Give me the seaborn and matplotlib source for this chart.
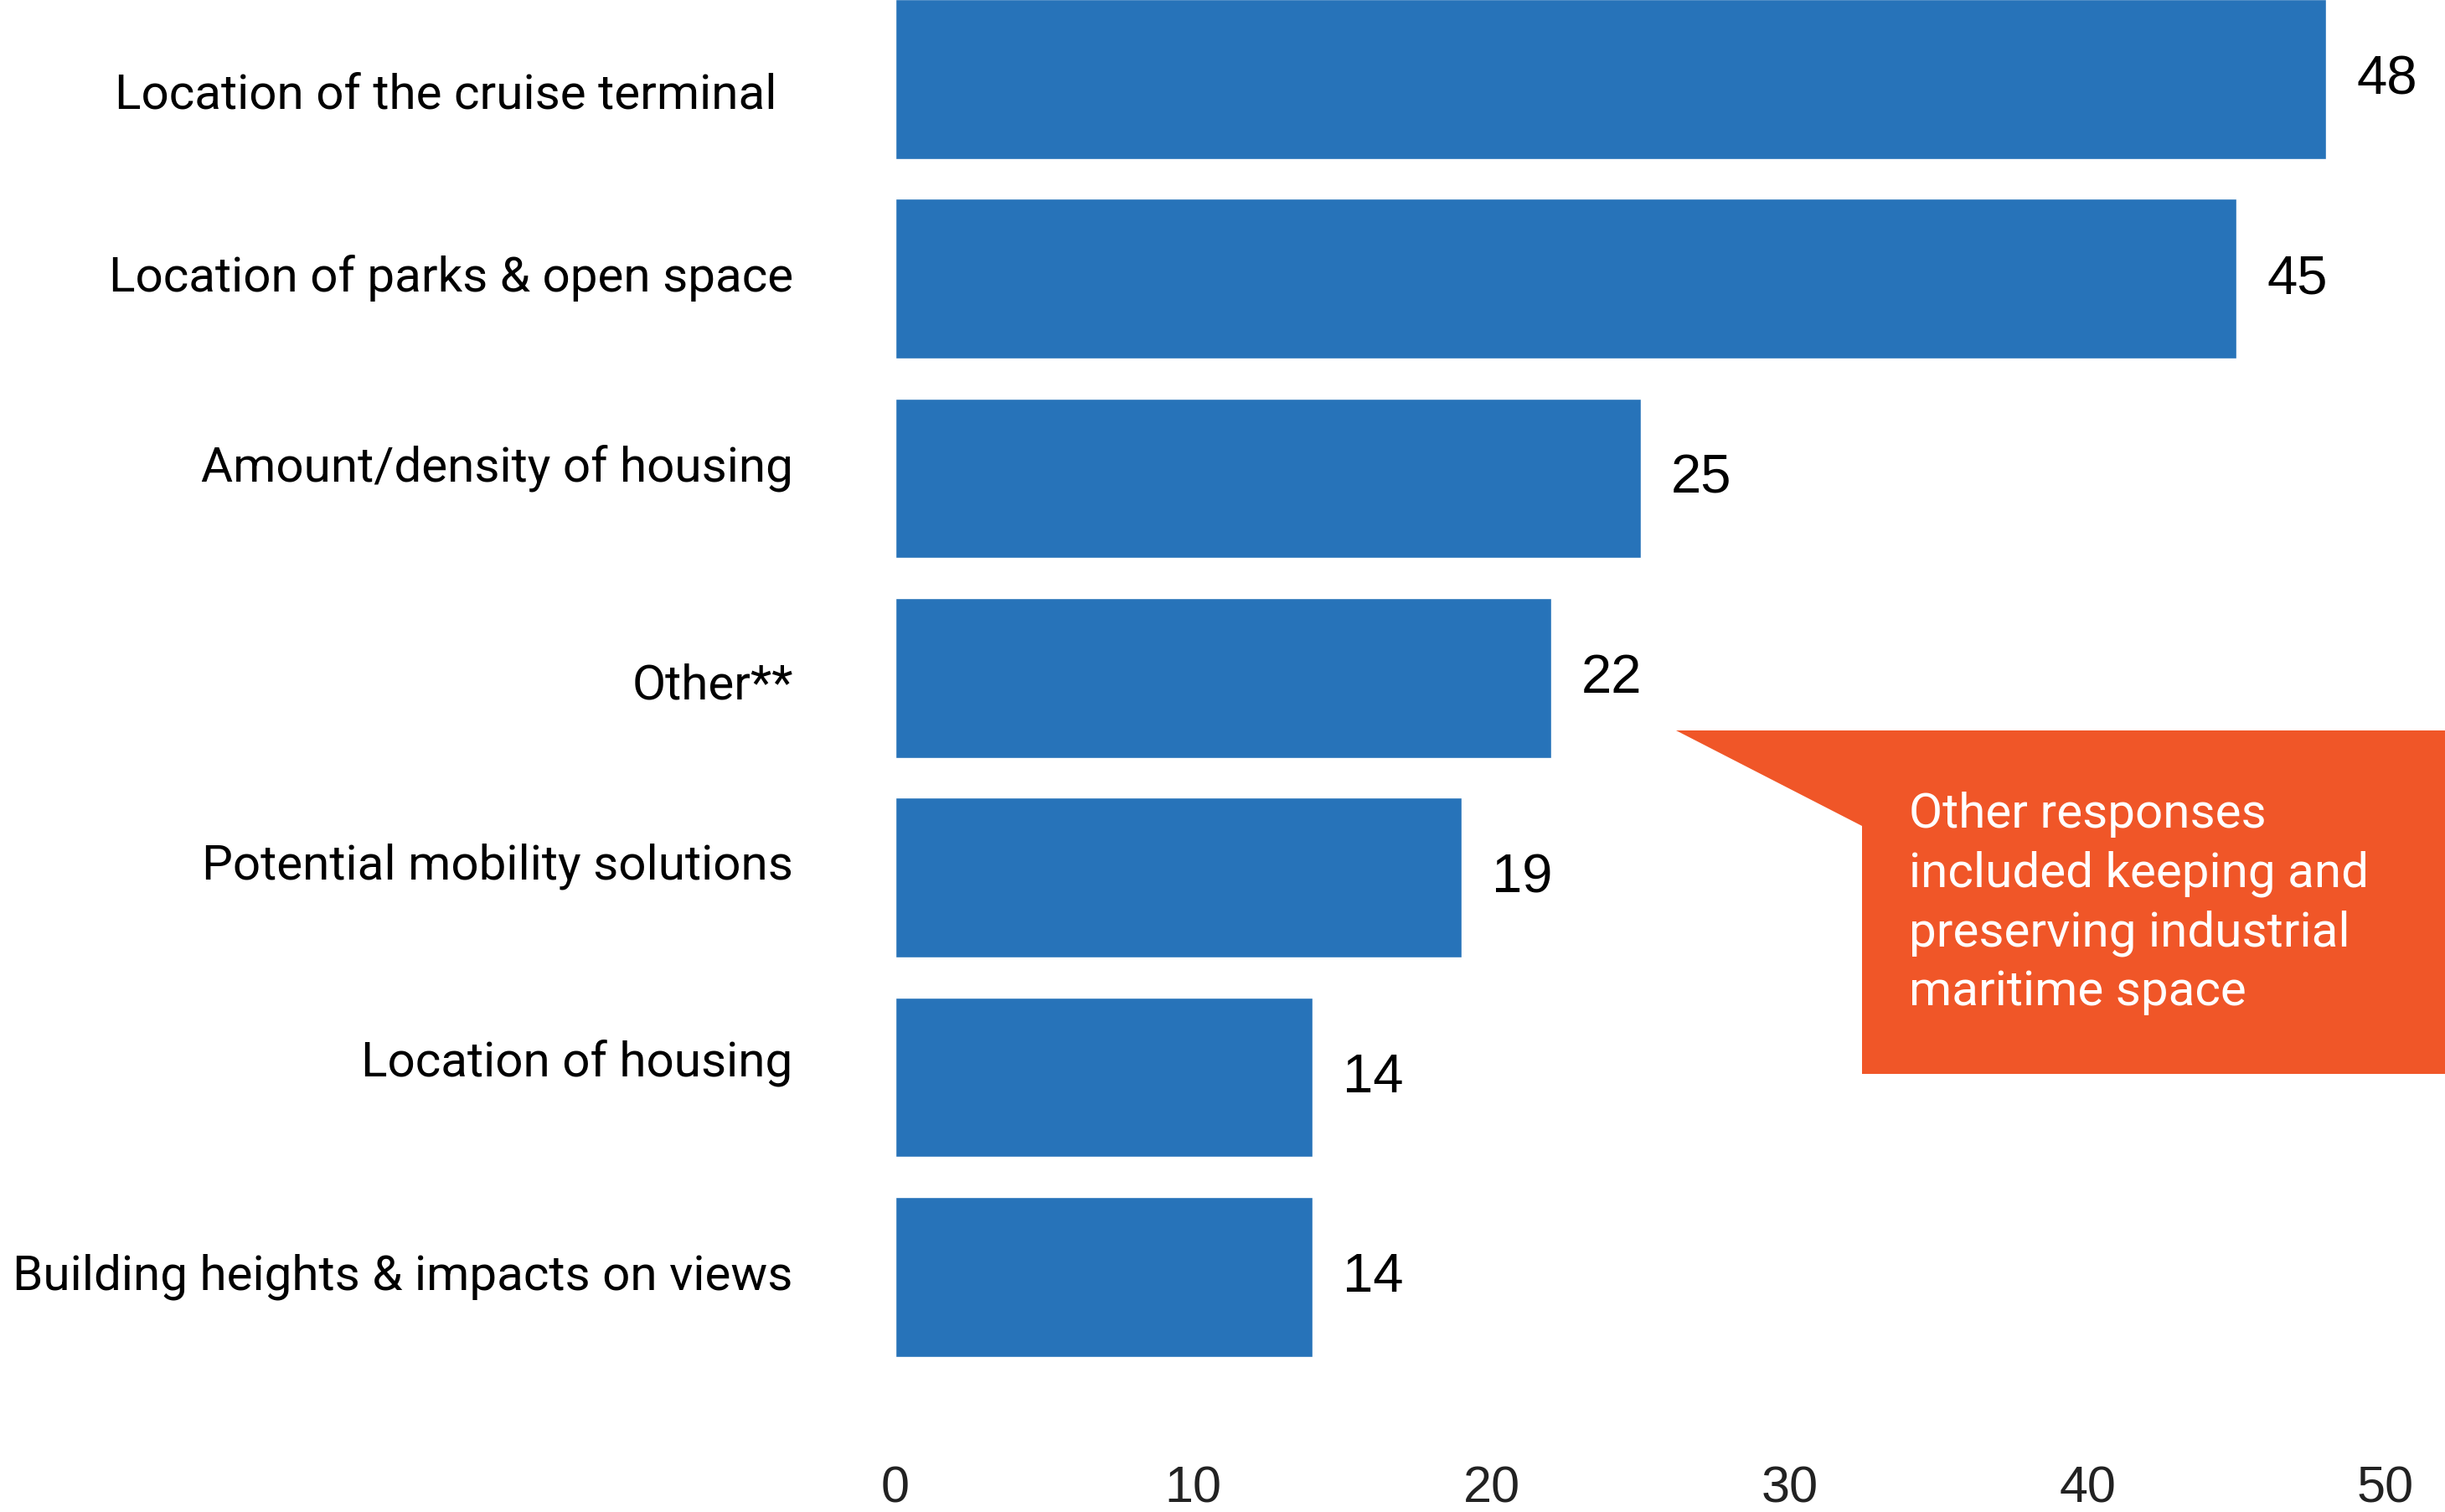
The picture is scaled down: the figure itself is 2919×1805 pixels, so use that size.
import matplotlib
matplotlib.use("Agg")
import matplotlib.pyplot as plt
from matplotlib.patches import Polygon
from matplotlib.transforms import offset_copy
import seaborn as sns
import pandas as pd

# Survey topics and number of responses
categories = [
    "Location of the cruise terminal",
    "Location of parks & open space",
    "Amount/density of housing",
    "Other**",
    "Potential mobility solutions",
    "Location of housing",
    "Building heights & impacts on views",
]
counts = [48, 45, 25, 22, 19, 14, 14]
x_ticks = [0, 10, 20, 30, 40, 50]
note_lines = [
    "Other responses",
    "included keeping and",
    "preserving industrial",
    "maritime space",
]

# hand-placed nudges (points) for the category labels: (dx, dy)
label_nudges = [(-13.7, -9.4), (0, 5.8), (0, 13.7), (0, -2.2),
                (0, 15.1), (0, 17.3), (0, 5.0)]

BAR_BLUE = "#2773B9"
NOTE_ORANGE = "#F05628"

sns.set_theme(style="white")
plt.rcParams["font.family"] = ["Roboto", "DejaVu Sans"]

df = pd.DataFrame({"topic": categories, "count": counts})

W, H = 2919, 1806
fig = plt.figure(figsize=(W / 100, H / 100), dpi=100)
ax = fig.add_axes([0.3662, 0.0565, 0.6095, 0.9435])

sns.barplot(data=df, y="topic", x="count", orient="h", color=BAR_BLUE,
            saturation=1, width=0.8, ax=ax)

ax.set_xlim(0, 50)
ax.set_ylim(6.75, -0.4)
ax.set_xlabel("")
ax.set_ylabel("")
for s in ax.spines.values():
    s.set_visible(False)

ax.set_xticks(x_ticks)
ax.set_xticklabels([str(t) for t in x_ticks], fontsize=44,
                   family="Liberation Sans", color="#222222")
ax.tick_params(axis="x", length=0, pad=33)

# category labels drawn to the left of the bars
ax.set_yticklabels([])
ax.tick_params(axis="y", length=0)
ytrans = ax.get_yaxis_transform()
for i, (name, (dx, dy)) in enumerate(zip(categories, label_nudges)):
    tr = offset_copy(ytrans, fig=fig, x=-88 + dx, y=dy, units="points")
    ax.text(0, i, name, transform=tr, ha="right", va="center_baseline",
            fontsize=42, color="black")

# value labels at the end of each bar
for cont in ax.containers:
    ax.bar_label(cont, labels=[str(v) for v in counts], padding=26,
                 fontsize=47, family="Liberation Sans", color="black")

# callout note pointing at the "Other" bar
px = lambda x: x / W
py = lambda y: 1 - y / H
callout = Polygon(
    [(px(2001), py(873)), (px(2919), py(873)), (px(2919), py(1283)),
     (px(2223), py(1283)), (px(2223), py(987))],
    closed=True, transform=fig.transFigure, facecolor=NOTE_ORANGE,
    edgecolor="none", zorder=5)
fig.patches.append(callout)

for i, line in enumerate(note_lines):
    fig.text(px(2279), py(988 + i * 70.7), line, color="white", fontsize=42,
             ha="left", va="baseline", zorder=6)

fig.savefig("out.png", dpi=100, facecolor="white")
